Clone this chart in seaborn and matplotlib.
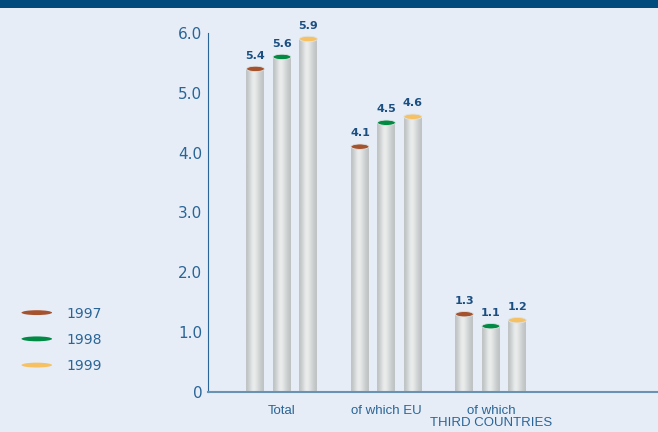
import numpy as np
import pandas as pd
import seaborn as sns
import matplotlib.pyplot as plt
from matplotlib import font_manager
from matplotlib.colors import LinearSegmentedColormap
from matplotlib.patches import Ellipse, Rectangle, Patch
from matplotlib.legend_handler import HandlerPatch

categories = ['Total', 'of which EU', 'of which\nTHIRD COUNTRIES']
years = ['1997', '1998', '1999']
v1997 = [5.4, 4.1, 1.3]
v1998 = [5.6, 4.5, 1.1]
v1999 = [5.9, 4.6, 1.2]
yticks = [0, 1, 2, 3, 4, 5, 6]
ytick_labels = ['0', '1.0', '2.0', '3.0', '4.0', '5.0', '6.0']

bg = '#e6edf7'
navy = '#004b7d'
txt = '#2a6596'
top_colors = {'1997': '#a5532f', '1998': '#008a43', '1999': '#f6c163'}

df = pd.DataFrame({
    'category': categories * 3,
    'year': [y for y in years for _ in categories],
    'value': v1997 + v1998 + v1999,
})

sns.set_style('white')
plt.rcParams['font.family'] = ['DejaVu Sans']

# condensed face for the category labels if there is one
try:
    font_manager.findfont('Liberation Sans Narrow', fallback_to_default=False)
    cat_font, cat_size = 'Liberation Sans Narrow', 10
except ValueError:
    cat_font, cat_size = 'Liberation Sans', 9.5

fig = plt.figure(figsize=(6.58, 4.32), dpi=100, facecolor=bg)
ax = fig.add_axes([208 / 658, 40 / 432, 450 / 658, 359 / 432])
ax.set_facecolor(bg)

sns.barplot(data=df, x='category', y='value', hue='year', order=categories,
            hue_order=years, width=0.76, gap=0.32,
            palette=['#cccccc'] * 3, legend=False, ax=ax, zorder=2)

# cylinder shading + coloured elliptical tops
grad = np.array([[0.0, 0.3, 0.65, 0.9, 0.7, 0.45, 0.2, 0.0]])
cyl = LinearSegmentedColormap.from_list('cyl', ['#bfc3c4', '#eef0f0'])
for year, cont in zip(years, ax.containers):
    for bar in cont:
        x0, w, h = bar.get_x(), bar.get_width(), bar.get_height()
        bar.set_facecolor('none')
        bar.set_edgecolor('none')
        im = ax.imshow(grad, cmap=cyl, aspect='auto', extent=(x0, x0 + w, 0, h),
                       interpolation='bicubic', zorder=2)
        im.set_clip_path(bar)
        ax.add_patch(Ellipse((x0 + w / 2, h), w, 0.09, facecolor=top_colors[year],
                             edgecolor='#dfe3e3', lw=0.6, zorder=3))
    ax.bar_label(cont, fmt='%.1f', padding=6, color='#1b4f82', fontsize=8,
                 fontweight='bold')

ax.set_xlim(-0.708, 3.6)
ax.set_ylim(0, 6.0)
ax.set_yticks(yticks)
ax.set_yticklabels(ytick_labels)
ax.set_xlabel('')
ax.set_ylabel('')
for s in ['top', 'right']:
    ax.spines[s].set_visible(False)
ax.spines['left'].set_color(txt)
ax.spines['bottom'].set_color('#6a93b3')
ax.spines['left'].set_bounds(0, 6.0)
ax.spines['bottom'].set_linewidth(1.5)
ax.tick_params(axis='y', direction='in', length=8, color=txt, labelcolor=txt,
               labelsize=11, pad=4)
ax.tick_params(axis='x', length=0, labelcolor=txt, labelsize=cat_size, pad=9)
for lab in ax.get_xticklabels():
    lab.set_family([cat_font, 'DejaVu Sans'])
    lab.set_linespacing(1.1)
    lab.set_verticalalignment('top')


class HandlerEllipse(HandlerPatch):
    def create_artists(self, legend, orig_handle, xdescent, ydescent, width,
                       height, fontsize, trans):
        center = 0.5 * width - 0.5 * xdescent, 0.5 * height - 0.5 * ydescent
        p = Ellipse(xy=center, width=width, height=height * 0.5)
        self.update_prop(p, orig_handle, legend)
        p.set_transform(trans)
        return [p]


handles = [Patch(facecolor=top_colors[y], edgecolor='none') for y in years]
fig.legend(handles, years, handler_map={Patch: HandlerEllipse()},
           loc='upper left', bbox_to_anchor=(9 / 658, 1 - 294 / 432),
           frameon=False, fontsize=10, labelcolor=txt, handlelength=2.2,
           handletextpad=1.0, labelspacing=0.88)

fig.add_artist(Rectangle((0, 1 - 8 / 432), 1, 8 / 432, transform=fig.transFigure,
                         facecolor=navy, edgecolor='none'))

fig.savefig('out.png', dpi=100, facecolor=bg)
